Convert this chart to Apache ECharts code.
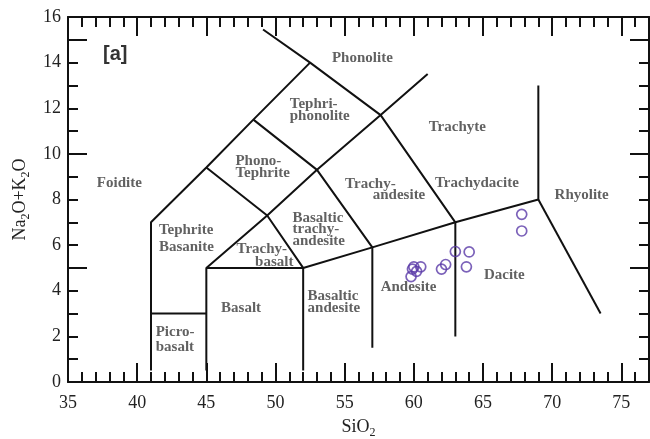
<!DOCTYPE html>
<html><head><meta charset="utf-8">
<script src="https://cdn.jsdelivr.net/npm/echarts@6/dist/echarts.min.js"></script>
<style>html,body{margin:0;padding:0;background:#fff}#c{width:650px;height:439px}</style>
</head><body><div id="c"></div>
<script>
// ---- axis ticks / labels ----
const xLabelValues = [35, 40, 45, 50, 55, 60, 65, 70, 75];
const yLabelValues = [0, 2, 4, 6, 8, 10, 12, 14, 16];

// ---- TAS field boundaries (SiO2, Na2O+K2O) ----
const foiditeBoundary   = [[41, 0.5], [41, 7], [45, 9.4], [48.4, 11.5], [52.5, 14]];
const phonoliteBoundary = [[49.1, 15.45], [52.5, 14], [57.6, 11.7], [63, 7], [63, 2]];
const trachyBoundary    = [[45, 0.5], [45, 5], [49.4, 7.3], [53, 9.3], [57.6, 11.7], [61, 13.5]];
const basaltTop         = [[45, 5], [52, 5], [57, 5.9], [63, 7], [69, 8], [69, 13]];
const picroTop          = [[41, 3], [45, 3]];
const tephriteBoundary  = [[45, 9.4], [49.4, 7.3], [52, 5], [52, 0.5]];
const phonoTephBoundary = [[48.4, 11.5], [53, 9.3], [57, 5.9], [57, 1.5]];
const rhyoliteBoundary  = [[69, 8], [73.5, 3]];

// ---- samples ----
const sampleSiO2   = [59.8, 59.9, 60.0, 60.2, 60.5, 62.0, 62.3, 63.0, 64.0, 63.8, 67.8, 67.8];
const sampleAlkali = [4.62, 4.95, 5.05, 4.85, 5.05, 4.95, 5.15, 5.72, 5.70, 5.05, 6.62, 7.35];

// ---- field names: [text, SiO2, alkali, align, lineHeight] ----
const fieldNames = [
  ['Foidite', 38.71, 8.70, 'center', 12],
  ['Tephrite\nBasanite', 41.57, 6.29, 'left', 16.5],
  ['Picro-\nbasalt', 41.34, 1.86, 'left', 15],
  ['Basalt', 47.51, 3.22, 'center', 12],
  ['Trachy-', 49.01, 5.82, 'center', 12],
  ['basalt', 49.91, 5.26, 'center', 12],
  ['Basaltic\ntrachy-\nandesite', 51.23, 6.68, 'left', 11.2],
  ['Basaltic\nandesite', 52.32, 3.50, 'left', 12],
  ['Andesite', 59.62, 4.17, 'center', 12],
  ['Dacite', 66.54, 4.68, 'center', 12],
  ['Trachyte', 63.14, 11.18, 'center', 12],
  ['Trachydacite', 64.56, 8.70, 'center', 12],
  ['Rhyolite', 72.13, 8.19, 'center', 12],
  ['Trachy-', 56.86, 8.68, 'center', 12],
  ['andesite', 58.93, 8.19, 'center', 12],
  ['Phono-\nTephrite', 47.1, 9.42, 'left', 11.5],
  ['Tephri-\nphonolite', 51.03, 11.91, 'left', 12],
  ['Phonolite', 56.28, 14.18, 'center', 12]
];

const boundaries = [foiditeBoundary, phonoliteBoundary, trachyBoundary, basaltTop,
  picroTop, tephriteBoundary, phonoTephBoundary, rhyoliteBoundary];

const AX = '#111';
const SERIF = '"Liberation Serif", "Times New Roman", serif';
const minorLen = 10, majorLen = 19;

function xAx(pos, interval, len, showLine, showLabel) {
  return {
    type: 'value', position: pos, min: 35, max: 77, interval: interval,
    axisLine: { show: showLine, onZero: false, lineStyle: { color: AX, width: 2 } },
    axisTick: { show: true, inside: true, length: len, lineStyle: { color: AX, width: 2 } },
    axisLabel: showLabel ? {
      show: true, margin: 12, fontFamily: SERIF, fontSize: 18, color: '#222',
      formatter: v => xLabelValues.indexOf(v) >= 0 ? String(v) : ''
    } : { show: false },
    splitLine: { show: false }
  };
}
function yAx(pos, interval, len, showLine, showLabel) {
  return {
    type: 'value', position: pos, min: 0, max: 16, interval: interval,
    axisLine: { show: showLine, onZero: false, lineStyle: { color: AX, width: 2 } },
    axisTick: { show: true, inside: true, length: len, lineStyle: { color: AX, width: 2 } },
    axisLabel: showLabel ? {
      show: true, margin: 7, fontFamily: SERIF, fontSize: 18, color: '#222',
      formatter: v => yLabelValues.indexOf(v) >= 0 ? String(v) : ''
    } : { show: false },
    splitLine: { show: false }
  };
}

const xAxes = [
  xAx('bottom', 1, minorLen, true, true),
  xAx('bottom', 5, majorLen, false, false),
  xAx('top', 1, minorLen, true, false),
  xAx('top', 5, majorLen, false, false)
];
xAxes[0].name = 'SiO{s|2}';
xAxes[0].nameLocation = 'middle';
xAxes[0].nameGap = 36;
xAxes[0].nameTextStyle = { fontFamily: SERIF, fontSize: 18, color: '#222',
  rich: { s: { fontFamily: SERIF, fontSize: 12, color: '#222', verticalAlign: 'bottom', padding: [0, 0, -3, 0] } } };

const yAxes = [
  yAx('left', 1, minorLen, true, true),
  yAx('left', 5, majorLen, false, false),
  yAx('right', 1, minorLen, true, false),
  yAx('right', 5, majorLen, false, false)
];
yAxes[0].name = 'Na{s|2}O+K{s|2}O';
yAxes[0].nameLocation = 'middle';
yAxes[0].nameGap = 38;
yAxes[0].nameTextStyle = { fontFamily: SERIF, fontSize: 18, color: '#222',
  rich: { s: { fontFamily: SERIF, fontSize: 12, color: '#222', verticalAlign: 'bottom', padding: [0, 0, -3, 0] } } };

const series = [];
boundaries.forEach(b => series.push({
  type: 'line', data: b, xAxisIndex: 0, yAxisIndex: 0, symbol: 'none', silent: true,
  lineStyle: { color: AX, width: 2 }, z: 3
}));
series.push({
  type: 'scatter', xAxisIndex: 0, yAxisIndex: 0,
  data: sampleSiO2.map((x, i) => [x, sampleAlkali[i]]),
  symbol: 'circle', symbolSize: 10,
  itemStyle: { color: 'rgba(255,255,255,0)', borderColor: '#5a3aa8', borderWidth: 1.7 },
  z: 5
});
series.push({
  type: 'scatter', xAxisIndex: 0, yAxisIndex: 0, symbolSize: 0, silent: true,
  itemStyle: { color: 'rgba(0,0,0,0)' },
  data: fieldNames.map(f => ({
    value: [f[1], f[2]], name: f[0],
    label: { align: f[3], lineHeight: f[4] }
  })),
  label: {
    show: true, position: 'inside', formatter: '{b}',
    fontFamily: SERIF, fontSize: 15, fontWeight: 'bold', color: '#3a3a3a'
  },
  z: 4
});

const chart = echarts.init(document.getElementById('c'), null, { renderer: 'canvas' });
chart.setOption({
  animation: false,
  backgroundColor: '#fff',
  title: { text: '[a]', left: 98, top: 39,
    textStyle: { fontFamily: '"Liberation Sans", Arial, sans-serif', fontSize: 20, fontWeight: 'bold', color: '#333' } },
  grid: { left: 68, right: 1, top: 17, bottom: 57, containLabel: false, outerBoundsMode: 'none' },
  xAxis: xAxes,
  yAxis: yAxes,
  series: series
});
</script>
</body></html>
